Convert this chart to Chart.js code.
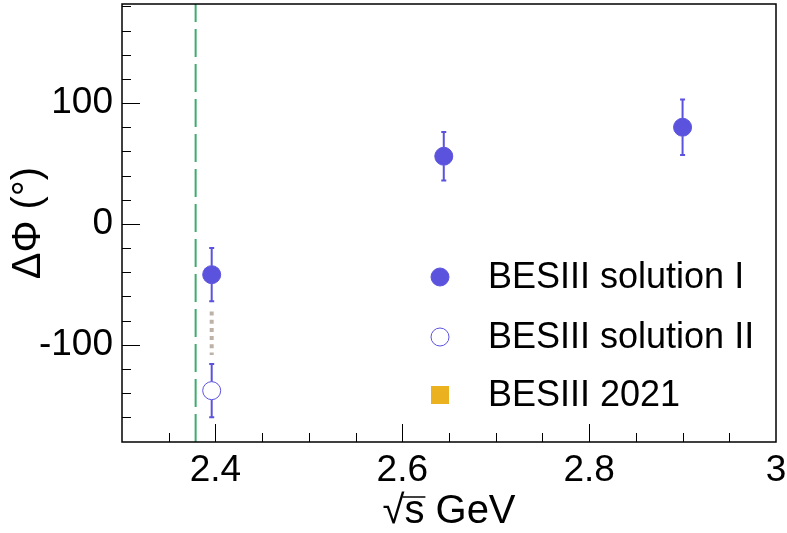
<!DOCTYPE html>
<html>
<head>
<meta charset="utf-8">
<script src="https://cdn.jsdelivr.net/npm/chart.js@4/dist/chart.umd.min.js"></script>
<style>
  body { margin: 0; background: #fff; }
  #wrap { width: 787px; height: 533px; }
</style>
</head>
<body>
<div id="wrap"><canvas id="c" width="787" height="533"></canvas></div>
<script>
// values
const energy = [2.396, 2.6444, 2.9];
const phaseSol1 = [-42, 56, 80];
const errSol1 = [22, 20, 23];
const energySol2 = [2.396];
const phaseSol2 = [-138];
const errSol2 = [22];
const thresholdX = [2.3788, 2.3788];
const thresholdY = [-180.5, 182];
const linkX = [2.396, 2.396];
const linkY = [-72.5, -108.5];
const yTickValues = [-160, -140, -120, -100, -80, -60, -40, -20, 0, 20, 40, 60, 80, 100, 120, 140, 160, 180];
const legendLabels = ['BESIII solution I', 'BESIII solution II', 'BESIII 2021'];

const blue = '#5b53dd';
const font = 'Liberation Sans, Arial, sans-serif';
const plotTop = 4;

const pts = (xs, ys) => xs.map((x, i) => ({ x: x, y: ys[i] }));

// pin the top of the plot frame
const pinTop = {
  id: 'pinTop',
  afterLayout(chart) {
    const a = chart.chartArea;
    const y = chart.scales.y;
    a.top = plotTop;
    a.height = a.bottom - a.top;
    y.top = plotTop;
    y.height = y.bottom - y.top;
    y.configure();
  }
};

// error bars, drawn under the markers
const errorBars = {
  id: 'errorBars',
  beforeDatasetsDraw(chart) {
    const ctx = chart.ctx;
    const xs = chart.scales.x, ys = chart.scales.y;
    const sets = [[energy, phaseSol1, errSol1], [energySol2, phaseSol2, errSol2]];
    ctx.save();
    ctx.strokeStyle = blue;
    ctx.lineWidth = 2;
    sets.forEach(([ex, py, er]) => {
      ex.forEach((e, i) => {
        const px = xs.getPixelForValue(e);
        const yc = ys.getPixelForValue(py[i]);
        const yt = ys.getPixelForValue(py[i] + er[i]);
        const yb = ys.getPixelForValue(py[i] - er[i]);
        ctx.beginPath();
        ctx.moveTo(px, yt); ctx.lineTo(px, yc - 9);
        ctx.moveTo(px, yc + 9); ctx.lineTo(px, yb);
        ctx.moveTo(px - 2.5, yt); ctx.lineTo(px + 2.5, yt);
        ctx.moveTo(px - 2.5, yb); ctx.lineTo(px + 2.5, yb);
        ctx.stroke();
      });
    });
    ctx.restore();
  }
};

// frame, inward ticks, legend, overline of the square root
const decorations = {
  id: 'decorations',
  afterDraw(chart) {
    const ctx = chart.ctx;
    const a = chart.chartArea;
    const xs = chart.scales.x, ys = chart.scales.y;
    ctx.save();
    ctx.strokeStyle = '#000';
    ctx.lineWidth = 1.5;
    ctx.strokeRect(a.left, a.top, a.right - a.left, a.bottom - a.top);

    ctx.lineWidth = 1;
    ctx.beginPath();
    yTickValues.forEach(v => {
      const y = Math.round(ys.getPixelForValue(v)) + 0.5;
      const len = v % 100 === 0 ? 18 : 9;
      ctx.moveTo(a.left, y); ctx.lineTo(a.left + len, y);
    });
    xs.ticks.forEach(t => {
      const k = Math.round(t.value * 100);
      if (k % 5 !== 0 || t.value <= xs.min || t.value >= xs.max) return;
      const x = Math.round(xs.getPixelForValue(t.value)) + 0.5;
      const len = k % 20 === 0 ? 18 : 9;
      ctx.moveTo(x, a.bottom); ctx.lineTo(x, a.bottom - len);
    });
    ctx.stroke();

    // legend
    const lx = 440, rows = [277, 337, 395];
    const sets = chart.data.datasets;
    ctx.font = '36px ' + font;
    ctx.textBaseline = 'middle';
    ctx.textAlign = 'left';
    rows.forEach((ry, i) => {
      const ds = sets[i];
      ctx.fillStyle = ds.backgroundColor;
      ctx.strokeStyle = ds.borderColor;
      ctx.lineWidth = ds.borderWidth;
      if (ds.pointStyle === 'rect') {
        ctx.fillRect(lx - 9, ry - 9, 18, 18);
      } else {
        ctx.beginPath();
        ctx.arc(lx, ry, 9, 0, Math.PI * 2);
        ctx.fill();
        ctx.stroke();
      }
      ctx.fillStyle = '#000';
      ctx.fillText(legendLabels[i], 488, ry + 1);
    });

    // overline over s in the x title
    ctx.font = '40px ' + font;
    const full = ctx.measureText('√s GeV').width;
    const w1 = ctx.measureText('√').width;
    const w2 = ctx.measureText('√s').width;
    const x0 = (a.left + a.right) / 2 - full / 2;
    ctx.strokeStyle = '#000';
    ctx.lineWidth = 1.5;
    ctx.beginPath();
    ctx.moveTo(x0 + w1 - 2, 497);
    ctx.lineTo(x0 + w2 + 1, 497);
    ctx.stroke();
    ctx.restore();
  }
};

new Chart(document.getElementById('c'), {
  type: 'scatter',
  data: {
    datasets: [
      {
        label: legendLabels[0],
        data: pts(energy, phaseSol1),
        pointRadius: 9,
        pointHoverRadius: 9,
        backgroundColor: blue,
        borderColor: blue,
        borderWidth: 1
      },
      {
        label: legendLabels[1],
        data: pts(energySol2, phaseSol2),
        pointRadius: 9,
        pointHoverRadius: 9,
        backgroundColor: '#ffffff',
        borderColor: blue,
        borderWidth: 1
      },
      {
        label: legendLabels[2],
        data: [],
        pointStyle: 'rect',
        backgroundColor: '#ecb11e',
        borderColor: '#ecb11e',
        borderWidth: 0
      },
      {
        label: 'threshold',
        data: pts(thresholdX, thresholdY),
        showLine: true,
        pointRadius: 0,
        borderColor: '#3daa6e',
        borderWidth: 2,
        borderDash: [28, 7]
      },
      {
        label: 'link',
        data: pts(linkX, linkY),
        showLine: true,
        pointRadius: 0,
        borderColor: '#bdb2a7',
        borderWidth: 4,
        borderDash: [4, 4.2]
      }
    ]
  },
  options: {
    responsive: false,
    animation: false,
    layout: { padding: { left: 0, right: 11, top: 4, bottom: 0 } },
    plugins: { legend: { display: false }, tooltip: { enabled: false } },
    scales: {
      x: {
        type: 'linear',
        min: 2.3,
        max: 3.0,
        afterFit(s) { s.height = 91; s.paddingLeft = 0; s.paddingRight = 0; },
        grid: { display: false, drawTicks: false },
        border: { display: false },
        ticks: {
          stepSize: 0.05,
          autoSkip: false,
          maxRotation: 0,
          padding: 7,
          color: '#000',
          font: { family: font, size: 37 },
          callback(v) {
            const k = Math.round(v * 100);
            return k % 20 === 0 ? String(Math.round(v * 10) / 10) : '';
          }
        },
        title: {
          display: true,
          text: '√s GeV',
          color: '#000',
          font: { family: font, size: 40 },
          padding: { top: 0, bottom: -3 }
        }
      },
      y: {
        min: -180.5,
        max: 182,
        afterFit(s) { s.width = 122; s.paddingTop = 0; s.paddingBottom = 0; },
        grid: { display: false, drawTicks: false },
        border: { display: false },
        ticks: {
          stepSize: 20,
          autoSkip: false,
          padding: 9,
          color: '#000',
          font: { family: font, size: 37 },
          callback(v) {
            return Math.abs(v % 100) < 1e-6 ? String(v) : '';
          }
        },
        title: {
          display: true,
          text: 'ΔΦ (°)',
          color: '#000',
          font: { family: font, size: 40 },
          padding: { top: 5, bottom: 0 }
        }
      }
    }
  },
  plugins: [pinTop, errorBars, decorations]
});
</script>
</body>
</html>
